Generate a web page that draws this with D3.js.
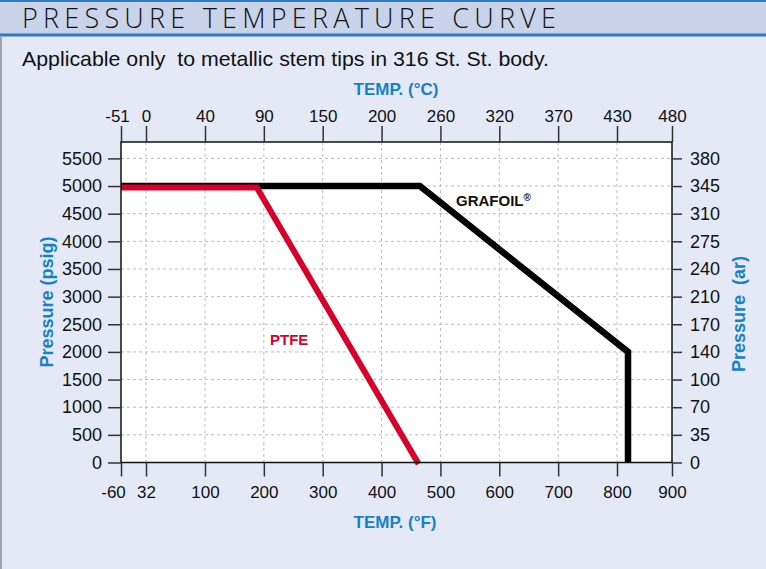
<!DOCTYPE html>
<html>
<head>
<meta charset="utf-8">
<script src="https://cdn.jsdelivr.net/npm/d3@7"></script>
<style>
  body { margin: 0; background: #e4e9f5; }
  svg { display: block; font-family: "Liberation Sans", Arial, sans-serif; }
</style>
</head>
<body>
<div id="chart"></div>
<script>
// data
var tempF = [-60, 32, 100, 200, 300, 400, 500, 600, 700, 800, 900];
var tempC = [-51, 0, 40, 90, 150, 200, 260, 320, 370, 430, 480];
var psig = [0, 500, 1000, 1500, 2000, 2500, 3000, 3500, 4000, 4500, 5000, 5500];
var bar = [0, 35, 70, 100, 140, 170, 210, 240, 275, 310, 345, 380];

var grafoilT = [-60, 465, 820, 820];
var grafoilP = [5000, 5000, 2000, 0];
var ptfeT = [-60, 188, 463];
var ptfeP = [5000, 5000, 0];

var width = 766, height = 569;
var plotLeft = 121, plotRight = 672, plotTop = 142, plotBottom = 462.5;
var blue = "#1581c8", red = "#d7002a";

var svg = d3.select("#chart").append("svg")
  .attr("width", width)
  .attr("height", height);

// panel + title band
svg.append("rect").attr("width", width).attr("height", height).attr("fill", "#e4e9f5");
svg.append("rect").attr("width", width).attr("height", 34).attr("fill", "#c9d4ea");
svg.append("line").attr("x1", 0).attr("x2", width).attr("y1", 1).attr("y2", 1)
  .attr("stroke", "#2b7bc5").attr("stroke-width", 2);
svg.append("line").attr("x1", 0).attr("x2", width).attr("y1", 35).attr("y2", 35)
  .attr("stroke", "#2b7bc5").attr("stroke-width", 3);
svg.append("line").attr("x1", 1).attr("x2", 1).attr("y1", 36).attr("y2", height)
  .attr("stroke", "#9ea3ad").attr("stroke-width", 2);

svg.append("text")
  .attr("x", 22).attr("y", 28)
  .attr("textLength", 534).attr("lengthAdjust", "spacing")
  .style("font-family", "'Open Sans', 'DejaVu Sans', sans-serif")
  .style("font-weight", 300)
  .style("font-size", "27px")
  .attr("fill", "#111")
  .text("PRESSURE TEMPERATURE CURVE");

svg.append("text")
  .attr("x", 22).attr("y", 66)
  .attr("textLength", 527).attr("lengthAdjust", "spacingAndGlyphs")
  .style("font-size", "21px")
  .attr("fill", "#111")
  .attr("xml:space", "preserve")
  .text("Applicable only  to metallic stem tips in 316 St. St. body.");

// scales (the x axis is stretched on the left, like the reference)
var x = d3.scaleLinear()
  .domain([-60, 32, 100, 800, 900])
  .range([plotLeft, 146, 205, 617, plotRight]);
var y = d3.scaleLinear()
  .domain([0, 5500])
  .range([plotBottom, 158.4]);

// plot area
svg.append("rect")
  .attr("x", plotLeft).attr("y", plotTop)
  .attr("width", plotRight - plotLeft).attr("height", plotBottom - plotTop)
  .attr("fill", "#fff");

// grid
svg.append("g").selectAll("line")
  .data(tempF.slice(1, -1))
  .enter().append("line")
  .attr("x1", function(d) { return x(d); }).attr("x2", function(d) { return x(d); })
  .attr("y1", plotTop).attr("y2", plotBottom)
  .attr("stroke", "#bdbdbd").attr("stroke-dasharray", "3,3");
svg.append("g").selectAll("line")
  .data(psig.slice(1))
  .enter().append("line")
  .attr("x1", plotLeft).attr("x2", plotRight)
  .attr("y1", function(d) { return y(d); }).attr("y2", function(d) { return y(d); })
  .attr("stroke", "#bdbdbd").attr("stroke-dasharray", "3,3");

// curves
var line = d3.line()
  .x(function(d) { return x(d[0]); })
  .y(function(d) { return y(d[1]); });

svg.append("path")
  .datum(d3.zip(grafoilT, grafoilP))
  .attr("d", line)
  .attr("fill", "none").attr("stroke", "#000").attr("stroke-width", 6.5)
  .attr("stroke-linejoin", "miter");

svg.append("path")
  .datum(d3.zip(ptfeT, ptfeP))
  .attr("d", line)
  .attr("transform", "translate(0,1.5)")
  .attr("fill", "none").attr("stroke", red).attr("stroke-width", 6)
  .attr("stroke-linejoin", "miter");

// frame
svg.append("rect")
  .attr("x", plotLeft).attr("y", plotTop)
  .attr("width", plotRight - plotLeft).attr("height", plotBottom - plotTop)
  .attr("fill", "none").attr("stroke", "#111").attr("stroke-width", 1.5);

// axes
function styleAxis(g) {
  g.select(".domain").remove();
  g.selectAll(".tick line").attr("stroke", "#333").attr("stroke-width", 1.5);
  g.selectAll(".tick text").attr("fill", "#111").style("font-family", "'Liberation Sans', Arial, sans-serif");
}

var xBottom = svg.append("g")
  .attr("transform", "translate(0," + plotBottom + ")")
  .call(d3.axisBottom(x).tickValues(tempF).tickSize(14).tickPadding(9)
    .tickFormat(function(d) { return String(d); }))
  .call(styleAxis);
xBottom.selectAll("text").style("font-size", "17px")
  .attr("dx", function(d, i) { return i === 0 ? -8 : 0; });

var xTop = svg.append("g")
  .attr("transform", "translate(0," + plotTop + ")")
  .call(d3.axisTop(x).tickValues(tempF).tickSize(16).tickPadding(4)
    .tickFormat(function(d, i) { return String(tempC[i]); }))
  .call(styleAxis);
xTop.selectAll("text").style("font-size", "17px")
  .attr("dx", function(d, i) { return i === 0 ? -4 : 0; });

svg.append("g")
  .attr("transform", "translate(" + plotLeft + ",0)")
  .call(d3.axisLeft(y).tickValues(psig).tickSize(13).tickPadding(6).tickFormat(d3.format("d")))
  .call(styleAxis)
  .selectAll("text").style("font-size", "18px");

svg.append("g")
  .attr("transform", "translate(" + plotRight + ",0)")
  .call(d3.axisRight(y).tickValues(psig).tickSize(10).tickPadding(8)
    .tickFormat(function(d, i) { return bar[i]; }))
  .call(styleAxis)
  .selectAll("text").style("font-size", "18px");

// axis titles
svg.append("text")
  .attr("x", 396).attr("y", 95).attr("text-anchor", "middle")
  .style("font-size", "17px").style("font-weight", "bold").attr("fill", blue)
  .text("TEMP. (°C)");
svg.append("text")
  .attr("x", 395).attr("y", 528).attr("text-anchor", "middle")
  .style("font-size", "17px").style("font-weight", "bold").attr("fill", blue)
  .text("TEMP. (°F)");
svg.append("text")
  .attr("transform", "translate(53,302) rotate(-90)").attr("text-anchor", "middle")
  .style("font-size", "18px").style("font-weight", "bold").attr("fill", blue)
  .text("Pressure (psig)");
svg.append("text")
  .attr("transform", "translate(745,314) rotate(-90)").attr("text-anchor", "middle")
  .attr("xml:space", "preserve")
  .style("font-size", "18px").style("font-weight", "bold").attr("fill", blue)
  .text("Pressure  (ar)");

// series labels
var gl = svg.append("text")
  .attr("x", 456).attr("y", 206)
  .style("font-size", "15px").style("font-weight", "bold").attr("fill", "#111");
gl.append("tspan").text("GRAFOIL");
gl.append("tspan").attr("dy", -5).style("font-size", "10px").text("®");

svg.append("text")
  .attr("x", 270).attr("y", 345)
  .style("font-size", "15px").style("font-weight", "bold").attr("fill", red)
  .text("PTFE");
</script>
</body>
</html>
